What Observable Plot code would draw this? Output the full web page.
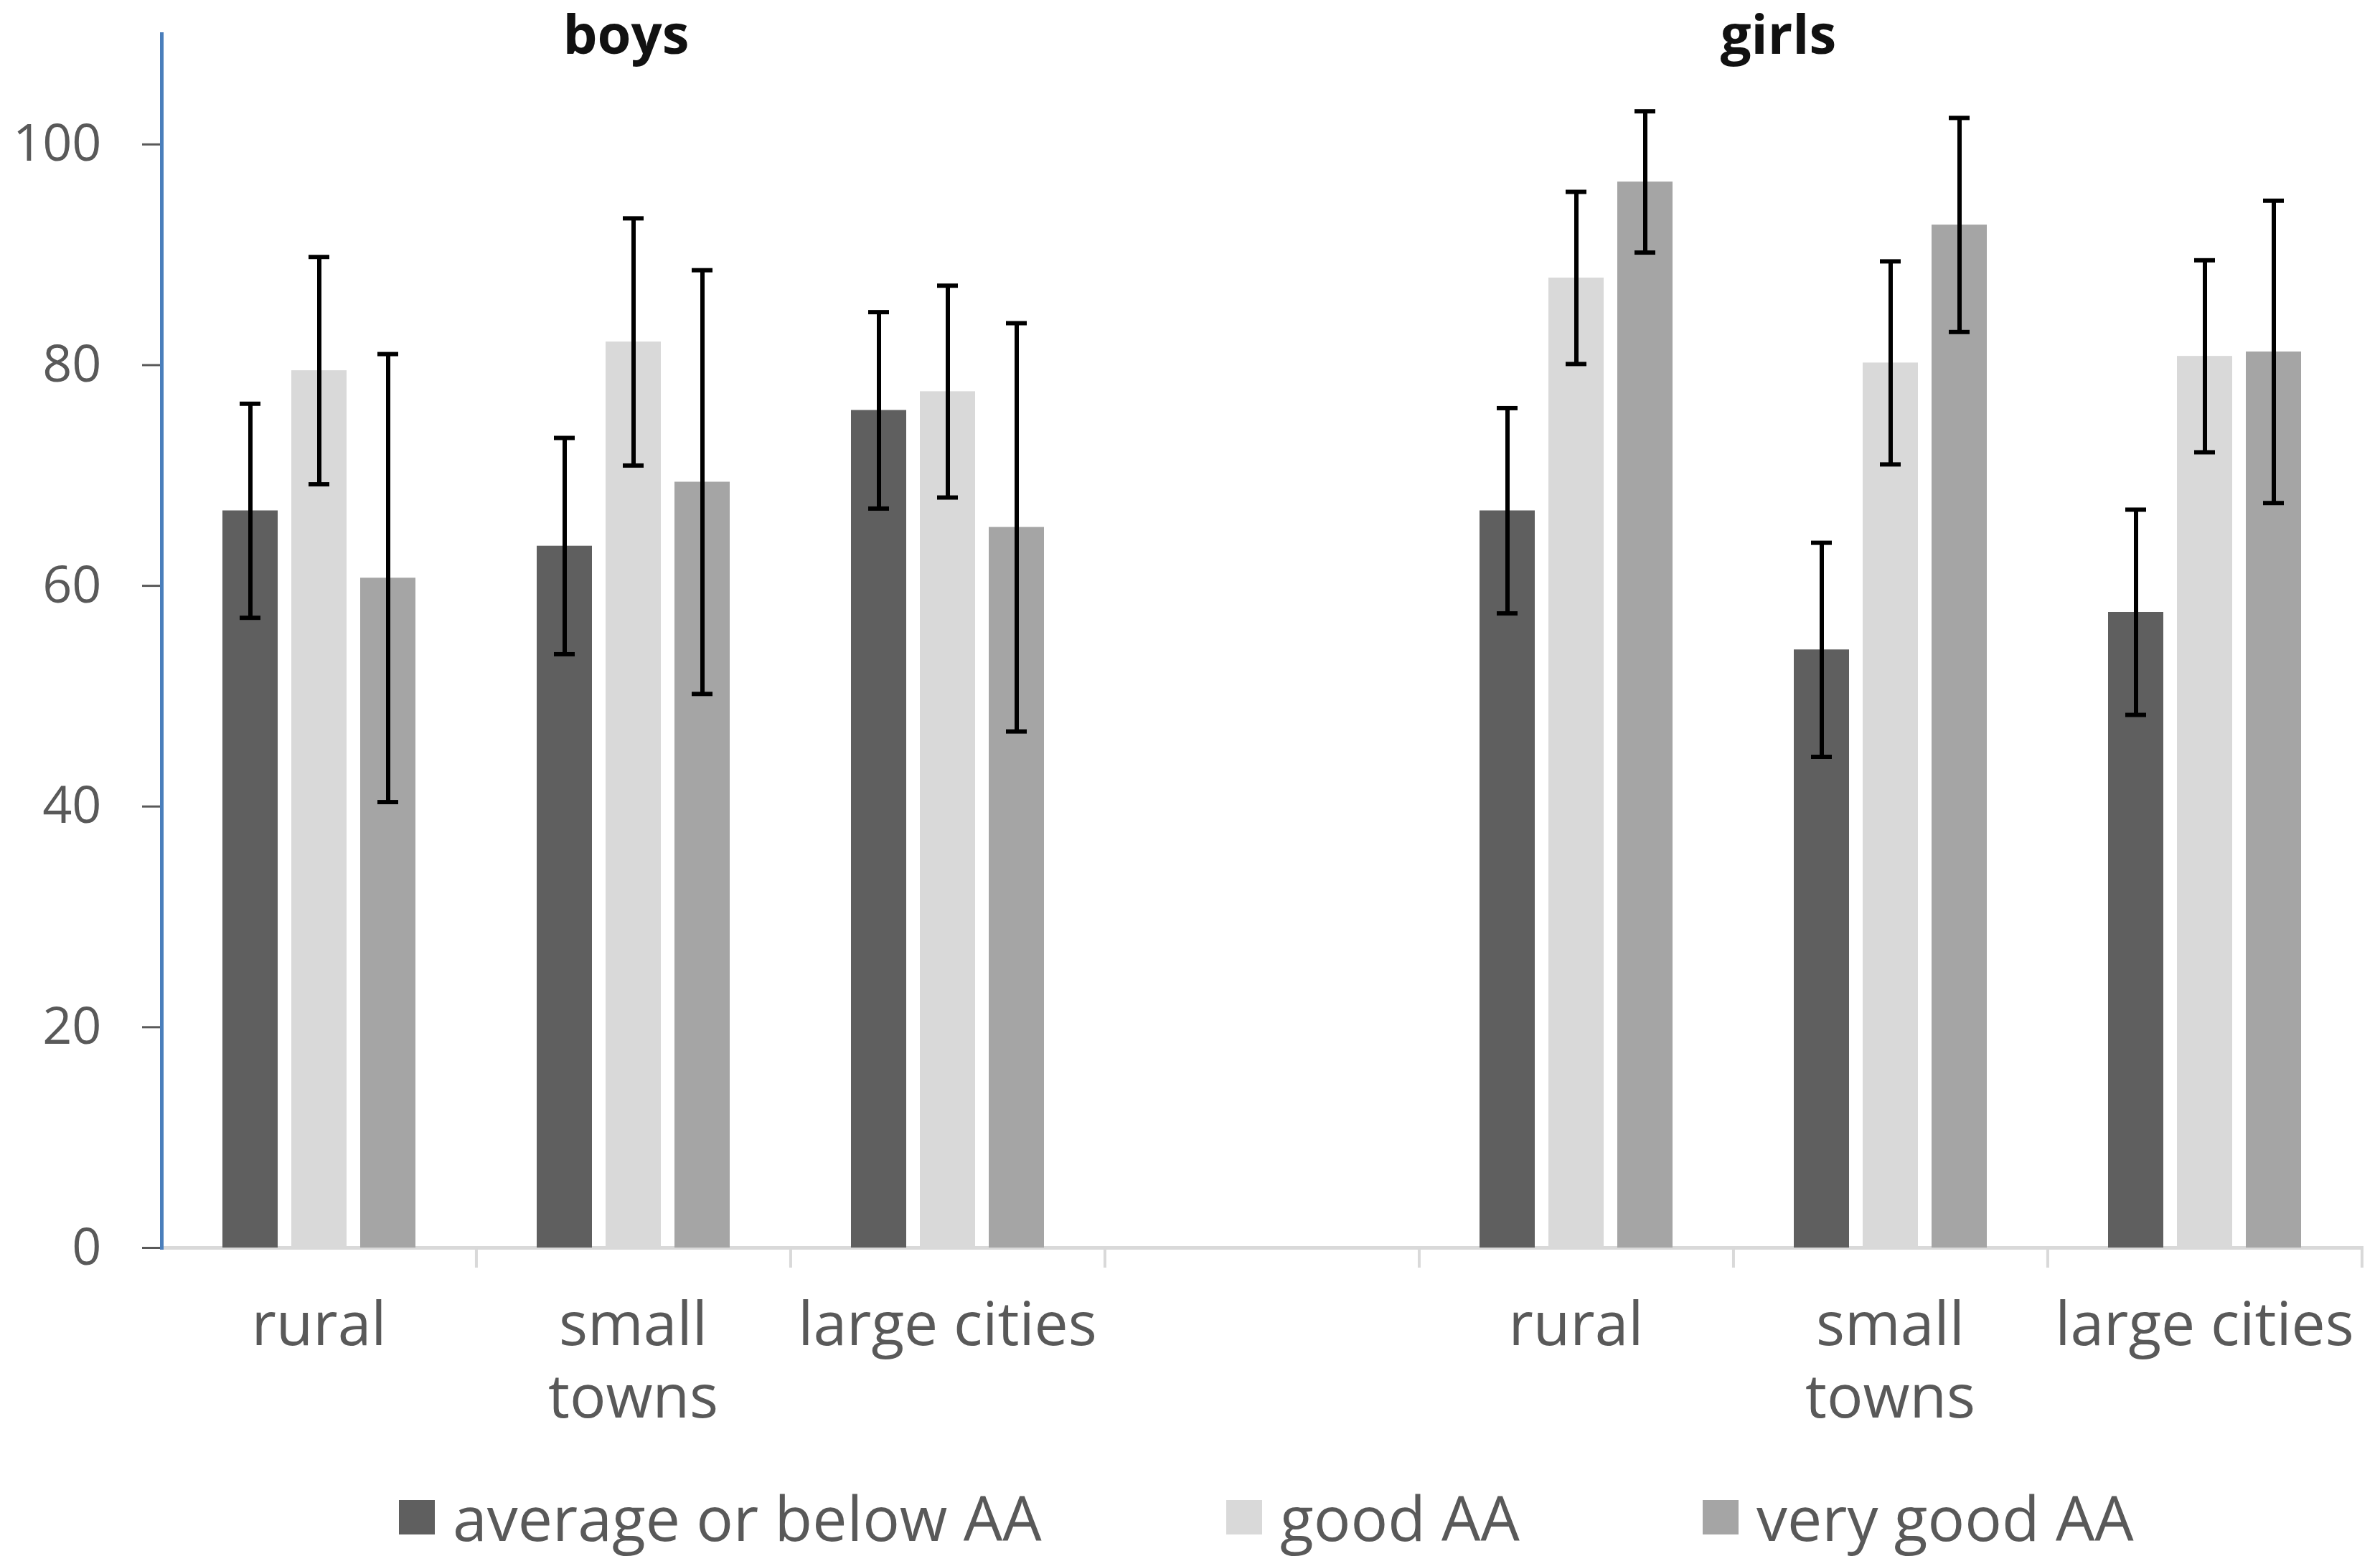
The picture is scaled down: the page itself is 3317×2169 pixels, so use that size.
<!DOCTYPE html>
<html>
<head>
<meta charset="utf-8">
<script src="https://cdn.jsdelivr.net/npm/d3@7"></script>
<script src="https://cdn.jsdelivr.net/npm/@observablehq/plot@0.6"></script>
<style>
  body { margin: 0; background: #fff; font-family: "Open Sans", sans-serif; }
  #legend { position: relative; height: 149px; }
  .item { position: absolute; top: 52px; display: flex; align-items: center; font-size: 86px; color: #595959; line-height: 1; white-space: nowrap; }
  .swatch { width: 50px; height: 48px; margin-right: 25px; }
</style>
</head>
<body>
<div id="chart"></div>
<div id="legend"></div>
<script>
const series = ["average or below AA", "good AA", "very good AA"];
const colors = ["#5f5f5f", "#d9d9d9", "#a5a5a5"];
const groups = ["boys", "girls"];
const places = ["rural", "small towns", "large cities"];
const placeLabels = ["rural", "small\ntowns", "large cities"];
const yTicks = [0, 20, 40, 60, 80, 100];

// bar heights, one array per series, in places order
const boysAverage = [66.8, 63.6, 75.9];
const boysGood = [79.5, 82.1, 77.6];
const boysVeryGood = [60.7, 69.4, 65.3];
const girlsAverage = [66.8, 54.2, 57.6];
const girlsGood = [87.9, 80.2, 80.8];
const girlsVeryGood = [96.6, 92.7, 81.2];

// half length of the error bars
const boysAverageErr = [9.7, 9.8, 8.9];
const boysGoodErr = [10.3, 11.2, 9.6];
const boysVeryGoodErr = [20.3, 19.2, 18.5];
const girlsAverageErr = [9.3, 9.7, 9.3];
const girlsGoodErr = [7.8, 9.2, 8.7];
const girlsVeryGoodErr = [6.4, 9.7, 13.7];

const means = [[boysAverage, boysGood, boysVeryGood], [girlsAverage, girlsGood, girlsVeryGood]];
const errs = [[boysAverageErr, boysGoodErr, boysVeryGoodErr], [girlsAverageErr, girlsGoodErr, girlsVeryGoodErr]];

const rows = [];
groups.forEach((g, gi) => places.forEach((p, pi) => series.forEach((s, si) => {
  rows.push({cat: g + "|" + p, series: s, value: means[gi][si][pi], err: errs[gi][si][pi]});
})));

// empty slot between boys and girls
const cats = [...places.map(p => "boys|" + p), "gap", ...places.map(p => "girls|" + p)];
const labelOf = k => k == "gap" ? "" : placeLabels[places.indexOf(k.split("|")[1])];

const W = 3317, mL = 222, mR = 23;
const halfBand = (W - mL - mR) / cats.length / 2;

let chart = Plot.plot({
  width: W,
  height: 2020,
  marginLeft: mL,
  marginRight: mR,
  marginTop: 47,
  marginBottom: 281,
  style: { fontFamily: "Open Sans", background: "white" },
  fx: { domain: cats, padding: 0, axis: null },
  x: { domain: series, paddingInner: 0.2, paddingOuter: 0.86, axis: null },
  y: { domain: [0, 110], axis: null },
  color: { domain: series, range: colors },
  marks: [
    Plot.axisY({ticks: yTicks, tickSize: 27, tickPadding: 57, fontSize: 72, color: "#595959", strokeWidth: 3, label: null, facetAnchor: "left"}),
    Plot.frame({anchor: "bottom", stroke: "#d9d9d9", strokeWidth: 5, facet: "super"}),
    Plot.barY(rows, {fx: "cat", x: "series", y: "value", fill: "series"}),
    Plot.ruleX(rows, {fx: "cat", x: "series", y1: d => d.value - d.err, y2: d => d.value + d.err, stroke: "black", strokeWidth: 6}),
    Plot.tickY(rows, {fx: "cat", x: "series", y: d => d.value - d.err, stroke: "black", strokeWidth: 6, insetLeft: 24, insetRight: 24}),
    Plot.tickY(rows, {fx: "cat", x: "series", y: d => d.value + d.err, stroke: "black", strokeWidth: 6, insetLeft: 24, insetRight: 24}),
    Plot.frame({anchor: "left", stroke: "#4a7ebb", strokeWidth: 5, facetAnchor: "left"}),
    Plot.axisFx({anchor: "bottom", tickSize: 0, tickPadding: 64, tickFormat: labelOf, fontSize: 84, lineHeight: 1.2, color: "#595959", label: null}),
    Plot.axisFx({anchor: "bottom", tickSize: 28, tickFormat: () => "", dx: halfBand, color: "#d9d9d9", strokeWidth: 4, label: null}),
    Plot.text([{cat: "boys|small towns", label: "boys"}], {fx: "cat", text: "label", frameAnchor: "top", dy: -26, dx: -10, fontWeight: "bold", fontSize: 76, fill: "#111"}),
    Plot.text([{cat: "girls|small towns", label: "girls"}], {fx: "cat", text: "label", frameAnchor: "top", dy: -26, dx: -156, fontWeight: "bold", fontSize: 76, fill: "#111"})
  ]
});
d3.select("#chart").append(() => chart);

// legend below the svg
const legendX = [556, 1709, 2373];
const legend = d3.select("#legend");
series.forEach((s, i) => {
  const item = legend.append("div").attr("class", "item").style("left", legendX[i] + "px");
  item.append("div").attr("class", "swatch").style("background", colors[i]);
  item.append("span").text(s);
});
</script>
</body>
</html>
